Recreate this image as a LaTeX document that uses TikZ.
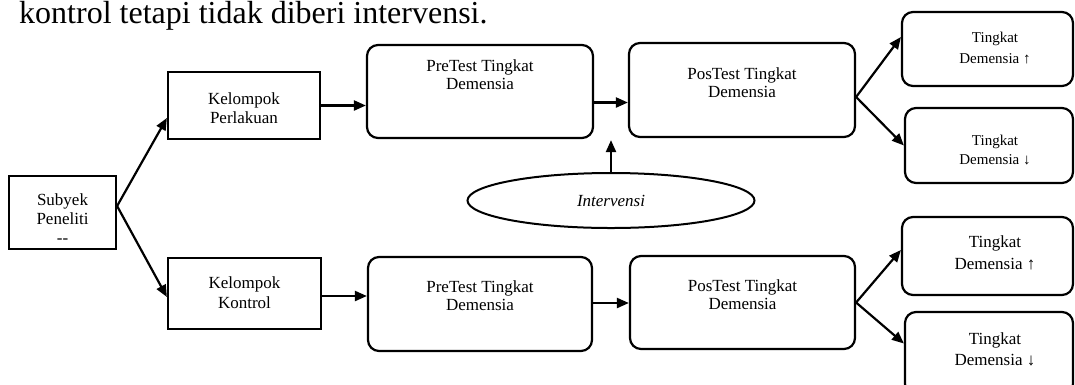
\documentclass[tikz,border=0pt]{standalone}
\usepackage{fontspec}
\setmainfont{Liberation Serif}
\usetikzlibrary{arrows.meta,shapes.geometric}
\tikzset{
  box/.style={draw, line width=2.2pt, inner sep=0pt, minimum width=#1},
  rbox/.style={box=#1, rounded corners=11pt},
  txt/.style={inner sep=0pt, align=center, font=\fontsize{17}{18}\selectfont},
  stxt/.style={inner sep=0pt, align=center, font=\fontsize{15}{19}\selectfont},
  arr/.style={line width=2.2pt, -{Triangle[length=12pt,width=10pt]}},
}
\begin{document}
\begin{tikzpicture}[x=1pt,y=-1pt]
\path[use as bounding box, clip] (0,0) rectangle (1075,384);
\fill[white] (0,0) rectangle (1075,384);
% top text
\node[inner sep=0pt, anchor=base west, font=\fontsize{32}{34}\selectfont] (title) at (19,23) {kontrol tetapi tidak diberi intervensi.};
% boxes
\node[box=107pt, minimum height=73pt] (sub) at (62.5,212.5) {};
\node[box=152pt, minimum height=67pt] (kp) at (244,105.5) {};
\node[box=153pt, minimum height=71pt] (kk) at (244.5,293.5) {};
\node[rbox=226pt, minimum height=93pt] (pre1) at (480,91.5) {};
\node[rbox=224pt, minimum height=94pt] (pre2) at (480,304) {};
\node[rbox=226pt, minimum height=94pt] (pos1) at (742,90) {};
\node[rbox=225pt, minimum height=93pt] (pos2) at (742.5,302.5) {};
\node[rbox=171pt, minimum height=74pt] (t1) at (987.5,49) {};
\node[rbox=168pt, minimum height=75pt] (t2) at (989,145.5) {};
\node[rbox=171pt, minimum height=78pt] (t3) at (987.5,256) {};
\node[rbox=168pt, minimum height=83pt] (t4) at (989,353.5) {};
\node[draw, ellipse, line width=2pt, minimum width=287pt, minimum height=55pt, inner sep=0pt] (iv) at (611,200.5) {};
% texts
\node[txt, font=\fontsize{17}{19}\selectfont] (subt) at (62.5,219) {Subyek\\Peneliti\\{-}{-}};
\node[txt, font=\fontsize{17}{19}\selectfont] (kpt) at (244,108) {Kelompok\\Perlakuan};
\node[txt, font=\fontsize{17}{20}\selectfont] (kkt) at (244.5,293) {Kelompok\\Kontrol};
\node[txt] (pre1t) at (480,75) {PreTest Tingkat\\Demensia};
\node[txt] (pre2t) at (480,296) {PreTest Tingkat\\Demensia};
\node[txt] (pos1t) at (742,83) {PosTest Tingkat\\Demensia};
\node[txt] (pos2t) at (742.5,295) {PosTest Tingkat\\Demensia};
\node[stxt, font=\fontsize{15}{21}\selectfont] (t1t) at (995,48) {Tingkat\\Demensia ↑};
\node[stxt] (t2t) at (995,150) {Tingkat\\Demensia ↓};
\node[txt, font=\fontsize{17}{22}\selectfont] (t3t) at (995,253) {Tingkat\\Demensia ↑};
\node[txt, font=\fontsize{17}{21}\selectfont] (t4t) at (995,349) {Tingkat\\Demensia ↓};
\node[txt, font=\itshape\fontsize{17}{18}\selectfont] (ivt) at (611,201) {Intervensi};
% connectors
\draw[arr] ([yshift=6.5pt]sub.east) -- ([yshift=-12.5pt]kp.west);
\draw[arr] ([yshift=6.5pt]sub.east) -- ([yshift=-3.5pt]kk.west);
\draw[arr] (kp.east) -- (kp.east -| pre1.west);
\draw[arr] ([yshift=-2.5pt]kk.east) -- ([yshift=-2.5pt]kk.east -| pre2.west);
\draw[arr] ([yshift=-11pt]pre1.east) -- ([yshift=-11pt]pre1.east -| pos1.west);
\draw[arr] ([yshift=1pt]pre2.east) -- ([yshift=1pt]pre2.east -| pos2.west);
\draw[arr] (iv.north) -- ([yshift=-2pt]iv.north |- pos1.south);
\draw[arr] ([yshift=-7pt]pos1.east) -- ([yshift=12pt]t1.west);
\draw[arr] ([yshift=-7pt]pos1.east) -- (t2.west);
\draw[arr] (pos2.east) -- ([yshift=6pt]t3.west);
\draw[arr] (pos2.east) -- ([yshift=10pt]t4.west);
\end{tikzpicture}
\end{document}
